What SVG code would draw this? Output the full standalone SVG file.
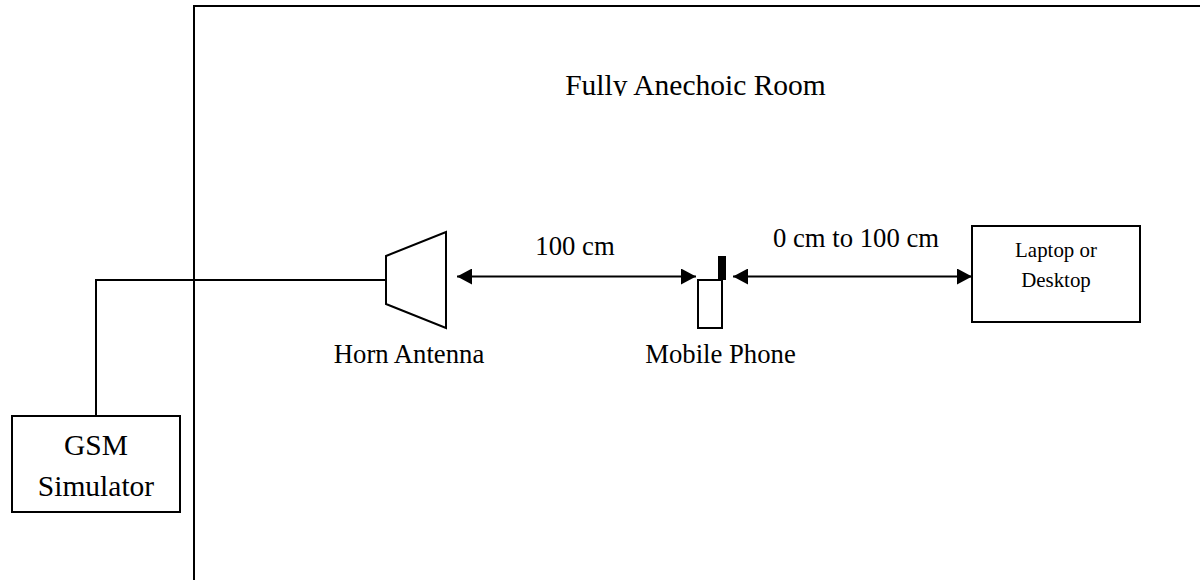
<svg xmlns="http://www.w3.org/2000/svg" width="1200" height="580" viewBox="0 0 1200 580">
<style>
.s{fill:none;stroke:#000;stroke-width:2}
.b{fill:#fff;stroke:#000;stroke-width:2}
text{font-family:"Liberation Serif","Times New Roman",serif;fill:#000;text-anchor:middle}
.t{font-size:26.700px}
.l{font-size:29.500px}
.m{font-size:20.900px}
</style>
<defs>
<marker id="a" viewBox="0 0 15 16" refX="15" refY="8" markerUnits="userSpaceOnUse" markerWidth="15" markerHeight="16" orient="auto-start-reverse"><path d="M0 0L15 8L0 16Z" fill="#000"/></marker>
<clipPath id="c"><rect x="500" y="60" width="400" height="36"/></clipPath>
</defs>
<rect width="1200" height="580" fill="#fff"/>
<g id="room"><path class="s" d="M1200 6H194V580"/><text class="l" x="695.500" y="95" clip-path="url(#c)">Fully Anechoic Room</text></g>
<g id="connectors">
<path class="s" d="M96 416V280H386"/>
<path class="s" d="M457 276.500H696" marker-start="url(#a)" marker-end="url(#a)"/>
<path class="s" d="M733 276.500H972" marker-start="url(#a)" marker-end="url(#a)"/>
</g>
<g id="horn"><path class="b" d="M386 256L446 232V328L386 304Z"/><text class="t" x="409" y="363">Horn Antenna</text></g>
<g id="phone"><rect class="b" x="698" y="280" width="24" height="48"/><rect x="718" y="256" width="8" height="24" fill="#000"/><text class="t" x="720.500" y="363">Mobile Phone</text></g>
<g id="label-100"><text class="t" x="575" y="255">100 cm</text></g>
<g id="label-0-100"><text class="t" x="856" y="247">0 cm to 100 cm</text></g>
<g id="laptop"><rect class="b" x="972" y="226" width="168" height="96"/><text class="m" x="1056" y="257">Laptop or</text><text class="m" x="1056" y="287">Desktop</text></g>
<g id="gsm"><rect class="b" x="12" y="416" width="168" height="96"/><text class="l" x="96" y="455">GSM</text><text class="l" x="96" y="496">Simulator</text></g>
</svg>
